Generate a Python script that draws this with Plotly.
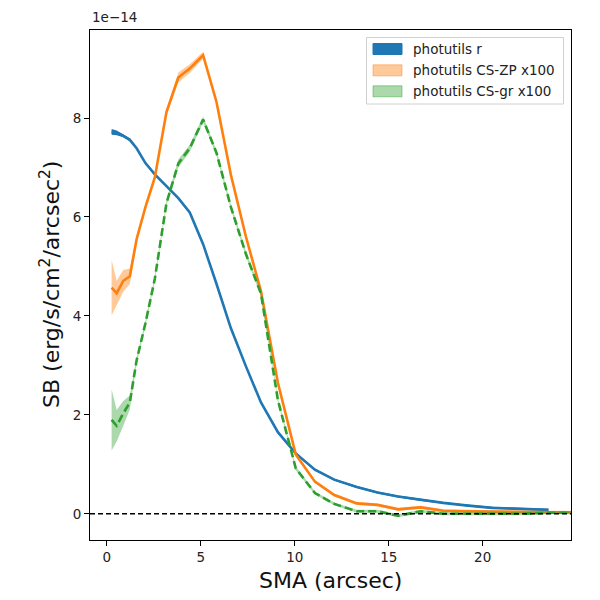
import plotly.graph_objects as go

W, H = 600, 600
OFF = 8  # page body margin of the html page
# axes box in window pixels (left, right, top, bottom)
AX_L, AX_R, AX_T, AX_B = 90, 571, 30, 540

BLUE = "#1f77b4"
ORANGE = "#ff7f0e"
GREEN = "#2ca02c"

# ── data (SB in units of 1e-14 erg/s/cm^2/arcsec^2) ──
sma = [0.25, 0.52, 0.87, 1.22, 1.58, 2.05, 2.55, 3.17, 3.8, 4.41, 5.12, 5.83,
       6.6, 7.4, 8.2, 9.1, 10.05, 11.07, 12.1, 13.3, 14.4, 15.5, 16.7, 17.9,
       19.1, 20.5, 22.0, 23.5, 24.9]

sb_r = [7.72, 7.70, 7.64, 7.56, 7.39, 7.09, 6.86, 6.63, 6.38, 6.09, 5.45, 4.65,
        3.75, 2.98, 2.25, 1.65, 1.22, 0.89, 0.69, 0.54, 0.43, 0.35, 0.28, 0.22,
        0.17, 0.12, 0.10, 0.08]
err_r = [0.06, 0.05, 0.03, 0.03, 0.02, 0.02, 0.02, 0.02, 0.02, 0.02, 0.02, 0.02,
         0.02, 0.02, 0.02, 0.02, 0.02, 0.02, 0.02, 0.02, 0.02, 0.02, 0.02, 0.02,
         0.02, 0.02, 0.02, 0.02]

sb_zp = [4.57, 4.46, 4.71, 4.80, 5.55, 6.20, 6.80, 8.12, 8.82, 9.00, 9.27, 8.33,
         6.85, 5.60, 4.50, 2.65, 1.20, 0.65, 0.38, 0.21, 0.18, 0.09, 0.13, 0.06,
         0.05, 0.04, 0.03, 0.03, 0.03]
err_zp = [0.56, 0.25, 0.22, 0.16, 0.08, 0.06, 0.06, 0.07, 0.10, 0.09, 0.07, 0.05,
          0.05, 0.05, 0.05, 0.04, 0.04, 0.03, 0.03, 0.03, 0.03, 0.03, 0.03, 0.03,
          0.03, 0.03, 0.03, 0.03, 0.03]

sb_gr = [1.90, 1.78, 2.03, 2.25, 3.10, 3.85, 4.75, 6.28, 7.08, 7.39, 7.97, 7.30,
         6.20, 5.25, 4.45, 2.30, 0.92, 0.42, 0.20, 0.05, 0.05, -0.04, 0.05, 0.00,
         0.00, 0.00, 0.00, 0.02, 0.02]
err_gr = [0.62, 0.32, 0.25, 0.14, 0.06, 0.05, 0.05, 0.05, 0.08, 0.07, 0.06, 0.05,
          0.05, 0.05, 0.05, 0.04, 0.04, 0.03, 0.03, 0.03, 0.03, 0.03, 0.03, 0.03,
          0.03, 0.03, 0.03, 0.03, 0.03]

labels = ["photutils r", "photutils CS-ZP x100", "photutils CS-gr x100"]

x_ticks = [0, 5, 10, 15, 20]
y_ticks = [0, 2, 4, 6, 8]
x_range = [-0.9, 24.7]
y_range = [-0.53, 9.78]


def band(x, y, e, fillcolor):
    xs = x[:len(y)]
    lo = [v - d for v, d in zip(y, e)]
    hi = [v + d for v, d in zip(y, e)]
    return go.Scatter(x=xs + xs[::-1], y=hi + lo[::-1], fill='toself',
                      fillcolor=fillcolor, line=dict(width=0), mode='lines',
                      hoverinfo='skip', showlegend=False)


def line(x, y, color, dash=None):
    return go.Scatter(x=x[:len(y)], y=y, mode='lines',
                      line=dict(color=color, width=2.6, dash=dash),
                      showlegend=False)


fig = go.Figure()
fig.add_trace(band(sma, sb_r, err_r, BLUE))
fig.add_trace(line(sma, sb_r, BLUE))
fig.add_trace(band(sma, sb_zp, err_zp, "rgba(255,127,14,0.42)"))
fig.add_trace(line(sma, sb_zp, ORANGE))
fig.add_trace(band(sma, sb_gr, err_gr, "rgba(44,160,44,0.4)"))
fig.add_trace(line(sma, sb_gr, GREEN, dash="8px,4px"))

fig.add_hline(y=0, line=dict(color="black", width=1.6, dash="5px,3px"))


def px_x(p):
    return (p - AX_L) / (AX_R - AX_L)


def px_y(p):
    return (AX_B - p) / (AX_B - AX_T)


# ── legend drawn by hand (matplotlib-style patches) ──
shapes = [dict(type='rect', xref='paper', yref='paper',
               x0=px_x(366.5), x1=px_x(563.5), y0=px_y(104), y1=px_y(37.5),
               line=dict(color="#d0d0d0", width=1), fillcolor="rgba(255,255,255,0.8)")]
patch_fill = [BLUE, "rgba(255,127,14,0.42)", "rgba(44,160,44,0.4)"]
patch_edge = [BLUE, "rgba(255,127,14,0.45)", "rgba(44,160,44,0.45)"]
rows_y = [49, 70.3, 91.3]
annos = []
for lab, fc, ec, ry in zip(labels, patch_fill, patch_edge, rows_y):
    shapes.append(dict(type='rect', xref='paper', yref='paper',
                       x0=px_x(373), x1=px_x(402), y0=px_y(ry + 5.5), y1=px_y(ry - 5.5),
                       line=dict(color=ec, width=1), fillcolor=fc))
    annos.append(dict(text=lab, xref='paper', yref='paper', x=px_x(411), y=px_y(ry),
                      xanchor='left', yanchor='middle', showarrow=False,
                      font=dict(size=13.5, color="#222")))

annos.append(dict(text="1e\u221214", xref='paper', yref='paper', x=0, y=px_y(AX_T - 3),
                  xanchor='left', yanchor='bottom', showarrow=False,
                  font=dict(size=13.5, color="#222")))
annos.append(dict(text="SMA (arcsec)", xref='paper', yref='paper', x=0.5, y=px_y(580),
                  xanchor='center', yanchor='middle', showarrow=False,
                  font=dict(size=22, color="#111")))
annos.append(dict(text="SB (erg/s/cm<sup>2</sup>/arcsec<sup>2</sup>)", xref='paper', yref='paper',
                  x=px_x(50), y=0.5, xanchor='center', yanchor='middle', textangle=-90,
                  showarrow=False, font=dict(size=22, color="#111")))

axis_common = dict(showgrid=False, zeroline=False, showline=True, mirror=True,
                   linecolor="black", linewidth=1, ticks='outside', ticklen=5,
                   tickcolor="black", tickfont=dict(size=13.5, color="#222"))

fig.update_xaxes(range=x_range, tickvals=x_ticks, **axis_common)
fig.update_yaxes(range=y_range, tickvals=y_ticks, **axis_common)

fig.update_layout(
    width=W, height=H,
    margin=dict(l=AX_L - OFF, r=W - AX_R + OFF, t=AX_T - OFF, b=H - AX_B + OFF),
    plot_bgcolor='white', paper_bgcolor='white',
    font=dict(family="DejaVu Sans"),
    shapes=fig.layout.shapes + tuple(shapes),
    annotations=annos,
    showlegend=False,
)

fig.write_html("out.html")
